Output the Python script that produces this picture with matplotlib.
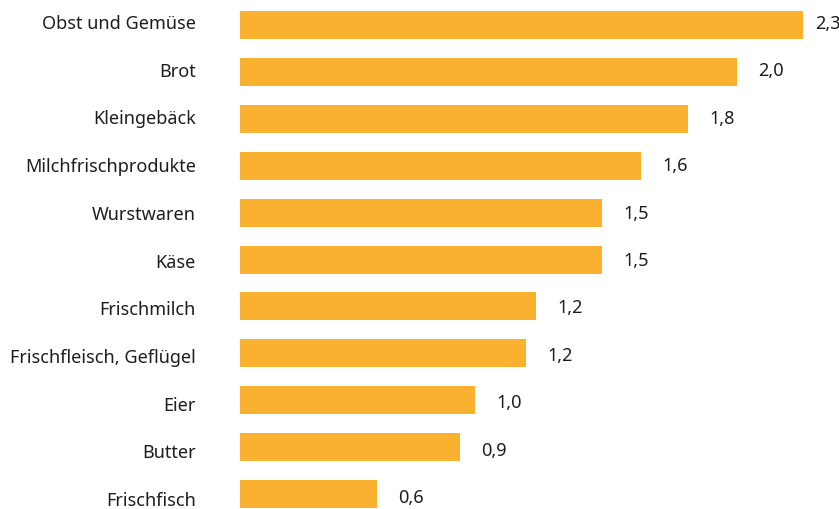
import matplotlib
matplotlib.use("Agg")
import matplotlib.pyplot as plt

categories = ["Obst und Gemüse", "Brot", "Kleingebäck", "Milchfrischprodukte",
              "Wurstwaren", "Käse", "Frischmilch", "Frischfleisch, Geflügel",
              "Eier", "Butter", "Frischfisch"]
values = [2.30, 2.03, 1.83, 1.64, 1.48, 1.48, 1.21, 1.17, 0.96, 0.90, 0.56]

W, H = 839, 510
BAR_COLOR = "#F9B12F"
TEXT_COLOR = "#1d1d1b"
plt.rcParams['font.family'] = ['Noto Sans', 'DejaVu Sans']

fig = plt.figure(figsize=(W / 100, H / 100), dpi=100)

# bars: centres at 26 + 46.9*i px from top, left edge at x=240 px, 244.8 px per unit
x0, scale = 240, 244.8
pitch, c0 = 46.9, 26
ax = fig.add_axes([x0 / W, 0, (W - x0) / W, 1])
ax.set_xlim(0, (W - x0) / scale)
ax.set_ylim((H - c0) / pitch, -c0 / pitch)
ax.barh(range(len(values)), values, height=28 / pitch, color=BAR_COLOR)
ax.axis("off")

def fy(px):
    return 1 - px / H

# labels sit on a slightly wider pitch than the bars
for i, (cat, v) in enumerate(zip(categories, values)):
    fig.text(196 / W, fy(29 + 47.7 * i), cat, ha="right", va="baseline",
             fontsize=13, color=TEXT_COLOR)
    lx = min(x0 + v * scale + 21, 815)
    fig.text(lx / W, fy(29 + 47.4 * i), f"{v:.1f}".replace(".", ","),
             ha="left", va="baseline", fontsize=13, color=TEXT_COLOR)

fig.savefig("out.png", dpi=100)
